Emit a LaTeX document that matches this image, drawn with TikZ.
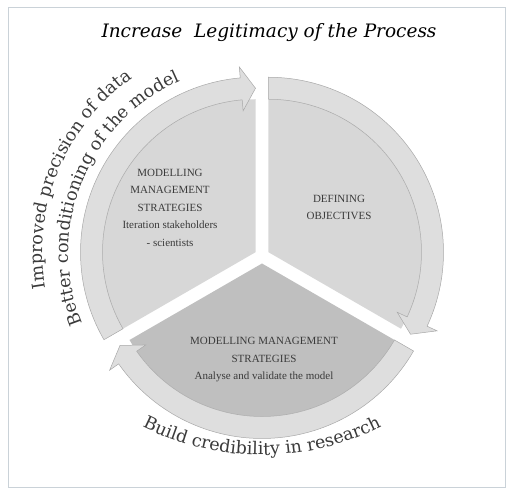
\documentclass[tikz,border=0pt]{standalone}
\usepackage{fontspec}
\setmainfont{Liberation Serif}
\newfontfamily\curvefont{DejaVu Serif}
\usetikzlibrary{calc,positioning,decorations.text}

\definecolor{secgrey}{RGB}{215,215,215}
\definecolor{bandgrey}{RGB}{222,222,222}
\definecolor{lowgrey}{RGB}{191,191,191}
\definecolor{edgegrey}{RGB}{168,168,168}
\definecolor{inkgrey}{RGB}{58,58,58}
\definecolor{framegrey}{RGB}{202,210,216}

\newcommand{\radin}{153}
\newcommand{\radout}{175}
\newcommand{\radmid}{164}
\newcommand{\cyclearrow}[3]{%
  \filldraw[band] ($(#1)+(#2:\radin)$) -- ($(#1)+(#2:\radout)$)
    arc[start angle=#2,end angle=#3+5,radius=\radout]
    -- ($(#1)+(#3+5:\radout+11)$) -- ($(#1)+(#3:\radmid)$)
    -- ($(#1)+(#3+5:\radin-11)$) -- ($(#1)+(#3+5:\radin)$)
    arc[start angle=#3+5,end angle=#2,radius=\radin] -- cycle;}

\tikzset{
  band/.style={fill=bandgrey,draw=edgegrey,line width=0.5pt},
  inner/.style={font=\fontsize{11}{17.5}\selectfont,text=inkgrey,align=center},
  curved/.style={decorate,decoration={text along path,text align=center,
    text color=inkgrey,text={|\curvefont\fontsize{17.5}{17.5}\selectfont|#1}}}
}

\begin{document}
\begin{tikzpicture}[x=1pt,y=1pt]
  \useasboundingbox (0,0) rectangle (509,489);
  \draw[framegrey,line width=0.6pt] (8,2) rectangle (505,482);

  \coordinate (O) at (262,233);
  \coordinate (left) at ($(O)+(150:7.5)$);
  \coordinate (right) at ($(O)+(30:7.5)$);
  \coordinate (low) at ($(O)+(270:7.5)$);
  \coordinate (arcc) at (262,300);

  \fill[secgrey] (left) -- ($(left)+(210:\radin)$) arc[start angle=210,end angle=90,radius=\radin] -- cycle;
  \cyclearrow{left}{210}{90}
  \fill[secgrey] (right) -- ($(right)+(90:\radin)$) arc[start angle=90,end angle=-30,radius=\radin] -- cycle;
  \cyclearrow{right}{90}{-30}
  \fill[lowgrey] (low) -- ($(low)+(330:\radin)$) arc[start angle=330,end angle=210,radius=\radin] -- cycle;
  \cyclearrow{low}{330}{210}

  \node (title) at (269,456) {\curvefont\itshape\fontsize{18.5}{18.5}\selectfont Increase\ \ Legitimacy of the Process};
  \node[inner] (iterate) at (170,281.5) {MODELLING\\MANAGEMENT\\STRATEGIES\\Iteration stakeholders\\- scientists};
  \node[inner] (define) at (339,281.5) {DEFINING\\OBJECTIVES};
  \node[inner] (validate) at (264,129) {MODELLING MANAGEMENT\\STRATEGIES\\Analyse and validate the model};

  \path[curved={Improved precision of data}] ($(left)+(205:213)$) arc[start angle=205,end angle=110,radius=213];
  \path[curved={Better conditioning of the model}] ($(left)+(208:187)$) arc[start angle=208,end angle=108,radius=187];
  \path[curved={Build credibility in research}] ($(arcc)+(236:266)$) arc[start angle=236,end angle=304,radius=266];
\end{tikzpicture}
\end{document}
